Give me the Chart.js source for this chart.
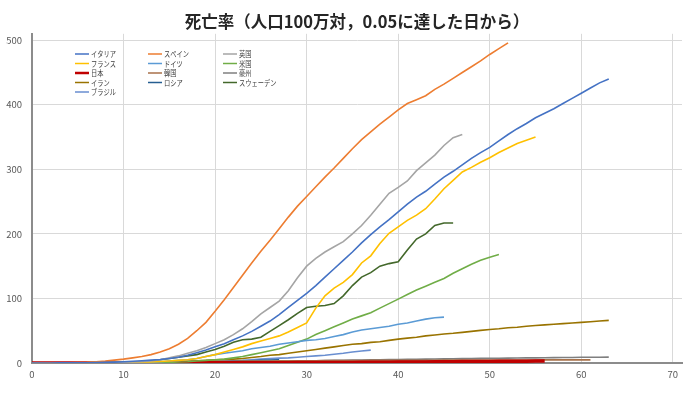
<!DOCTYPE html>
<html lang="ja">
<head>
<meta charset="utf-8">
<title>死亡率</title>
<script src="https://cdn.jsdelivr.net/npm/chart.js@4.4.0/dist/chart.umd.min.js"></script>
<style>
  html, body { margin: 0; padding: 0; background: #fff; }
  #grafico-container { width: 700px; height: 396px; position: relative; }
</style>
</head>
<body>
<div id="grafico-container"><canvas id="graficoMortalidade"></canvas></div>
<script>
// Países na ordem da legenda original (3 colunas, preenchida por linha)
const paises = ['イタリア', 'スペイン', '英国', 'フランス', 'ドイツ', '米国', '日本', '韓国', '豪州', 'イラン', 'ロシア', 'スウェーデン', 'ブラジル'];

// Mortes por milhão, um valor por dia a partir do dia em que chegou a 0,05
const italia = [0.05, 0.1, 0.1, 0.2, 0.3, 0.4, 0.5, 0.7, 1, 1.4, 2, 2.7, 3.5, 4.5, 5.5, 7, 9, 12, 16, 20, 25, 30, 36, 42, 49, 57, 65, 75, 86, 97, 108, 120, 133, 146, 159, 172, 186, 199, 211, 222, 234, 246, 257, 266, 277, 288, 297, 307, 317, 326, 334, 344, 354, 363, 371, 380, 387, 394, 402, 410, 418, 426, 434, 440];
const espanha = [0.05, 0.1, 0.2, 0.3, 0.5, 0.8, 1.2, 2, 3, 4.5, 6, 8, 10, 13, 17, 22, 29, 38, 50, 63, 80, 98, 117, 136, 155, 173, 190, 208, 226, 243, 258, 273, 288, 302, 317, 332, 346, 358, 370, 381, 392, 402, 408, 414, 424, 432, 441, 450, 459, 468, 478, 487, 496];
const reinoUnido = [0.05, 0.1, 0.1, 0.2, 0.2, 0.3, 0.4, 0.6, 0.8, 1, 1.3, 1.7, 2.2, 3, 5, 8, 11, 15, 19, 24, 30, 36, 44, 53, 64, 76, 86, 96, 112, 132, 150, 162, 172, 180, 188, 200, 213, 229, 246, 263, 272, 282, 298, 310, 322, 337, 349, 354];
const franca = [0.05, 0.1, 0.1, 0.1, 0.2, 0.2, 0.3, 0.4, 0.5, 0.7, 0.9, 1.1, 1.4, 1.8, 2.3, 3, 4, 5, 7, 10, 13, 17, 21, 25, 30, 34, 38, 42, 48, 55, 62, 85, 104, 116, 125, 137, 155, 166, 185, 201, 211, 221, 229, 239, 254, 270, 283, 296, 303, 311, 318, 326, 333, 340, 345, 350];
const alemanha = [0.05, 0.1, 0.1, 0.1, 0.2, 0.2, 0.3, 0.4, 0.5, 0.6, 0.7, 0.8, 0.9, 1, 2, 3, 4, 5, 7, 10, 13, 15, 17, 19, 22, 24, 26, 29, 31, 33, 35, 36, 38, 41, 44, 48, 51, 53, 55, 57, 60, 62, 65, 68, 70, 71];
const eua = [0.05, 0.1, 0.1, 0.1, 0.1, 0.2, 0.2, 0.2, 0.3, 0.3, 0.4, 0.4, 0.5, 0.6, 0.7, 1, 1.5, 2, 3, 4, 5, 6, 8, 10, 13, 16, 19, 22, 27, 32, 37, 44, 50, 56, 62, 68, 73, 78, 85, 92, 99, 106, 113, 119, 125, 131, 139, 146, 153, 159, 164, 168];
const japao = [0.05, 0.05, 0.06, 0.07, 0.08, 0.1, 0.1, 0.1, 0.1, 0.1, 0.1, 0.1, 0.2, 0.2, 0.2, 0.2, 0.3, 0.3, 0.3, 0.3, 0.3, 0.4, 0.4, 0.4, 0.4, 0.5, 0.5, 0.5, 0.5, 0.6, 0.6, 0.7, 0.7, 0.8, 0.8, 0.9, 1, 1.1, 1.2, 1.3, 1.4, 1.5, 1.6, 1.7, 1.8, 2, 2.1, 2.2, 2.3, 2.4, 2.5, 2.6, 2.7, 2.8, 2.9, 3, 3.1];
const coreia = [0.05, 0.08, 0.1, 0.15, 0.2, 0.3, 0.4, 0.5, 0.6, 0.7, 0.9, 1, 1.2, 1.3, 1.5, 1.7, 1.9, 2, 2.2, 2.3, 2.5, 2.6, 2.8, 2.9, 3, 3.1, 3.2, 3.3, 3.4, 3.5, 3.5, 3.6, 3.7, 3.7, 3.8, 3.9, 3.9, 4, 4, 4.1, 4.1, 4.2, 4.2, 4.3, 4.3, 4.4, 4.4, 4.5, 4.5, 4.5, 4.6, 4.6, 4.6, 4.7, 4.7, 4.7, 4.8, 4.8, 4.8, 4.9, 4.9, 4.9];
const australia = [0.05, 0.05, 0.06, 0.08, 0.1, 0.1, 0.12, 0.15, 0.2, 0.25, 0.3, 0.35, 0.4, 0.5, 0.6, 0.7, 0.8, 0.9, 1, 1.2, 1.4, 1.6, 1.8, 2, 2.2, 2.4, 2.6, 2.8, 3, 3.2, 3.4, 3.6, 3.8, 4, 4.2, 4.4, 4.6, 4.8, 5, 5.2, 5.4, 5.6, 5.8, 6, 6.2, 6.4, 6.6, 6.8, 7, 7.1, 7.3, 7.4, 7.6, 7.7, 7.9, 8, 8.2, 8.3, 8.5, 8.6, 8.8, 8.9, 9, 9.1];
const ira = [0.05, 0.1, 0.1, 0.15, 0.2, 0.25, 0.3, 0.35, 0.4, 0.45, 0.5, 0.55, 0.6, 0.7, 1, 1.5, 2, 3, 3.5, 4, 5, 5.5, 6, 7, 8.5, 10, 12, 13, 15, 17, 19, 21, 23, 25, 27, 29, 30, 32, 33, 35, 37, 38.5, 40, 42, 43.5, 45, 46, 47.5, 49, 50.5, 52, 53, 54.5, 55.5, 57, 58, 59, 60, 61, 62, 63, 64, 65, 66];
const russia = [0.05, 0.05, 0.06, 0.07, 0.08, 0.1, 0.1, 0.12, 0.15, 0.2, 0.25, 0.3, 0.4, 0.5, 0.6, 0.8, 1, 1.2, 1.5, 1.8, 2.1, 2.4, 2.8, 3.2, 3.6, 4, 4.5, 5];
const suecia = [0.05, 0.1, 0.1, 0.2, 0.2, 0.3, 0.4, 0.5, 0.6, 0.8, 1, 1.3, 2, 3, 5, 7, 9, 11, 13, 17, 21, 26, 32, 36, 37, 40, 49, 58, 67, 77, 86, 88, 89, 92, 104, 120, 133, 140, 150, 154, 157, 175, 192, 200, 213, 217, 217];
const brasil = [0.05, 0.05, 0.06, 0.07, 0.08, 0.1, 0.1, 0.12, 0.15, 0.2, 0.25, 0.3, 0.35, 0.4, 0.45, 0.5, 0.6, 1, 1.5, 2, 2.5, 3, 3.5, 4, 5, 6, 7, 7.5, 8, 9, 10, 11, 12, 13.5, 15, 17, 18.5, 20];

// Marcas dos eixos
const ticksX = [0, 10, 20, 30, 40, 50, 60, 70];
const ticksY = [0, 100, 200, 300, 400, 500];

const series = [italia, espanha, reinoUnido, franca, alemanha, eua, japao, coreia, australia, ira, russia, suecia, brasil];
// Paleta padrão do Excel, com o Japão em vermelho
const cores = ['#4472C4', '#ED7D31', '#A5A5A5', '#FFC000', '#5B9BD5', '#70AD47', '#C00000', '#A8714A', '#7F7F7F', '#997300', '#255E91', '#43682B', '#698ED0'];

const fonteJP = '"Noto Sans CJK JP", "Noto Sans", sans-serif';

// Legenda desenhada dentro da área do gráfico, em 3 colunas
const legendaInterna = {
  id: 'legendaInterna',
  afterDraw(chart) {
    const ctx = chart.ctx;
    const colunas = [75, 148, 223];
    ctx.save();
    ctx.font = '8px ' + fonteJP;
    ctx.textBaseline = 'middle';
    ctx.fillStyle = '#404040';
    chart.data.datasets.forEach((ds, i) => {
      const x = colunas[i % 3];
      const y = 54 + Math.floor(i / 3) * 9.5;
      ctx.strokeStyle = ds.borderColor;
      ctx.lineWidth = ds.borderWidth > 2 ? 2.5 : 1.5;
      ctx.beginPath();
      ctx.moveTo(x, y);
      ctx.lineTo(x + 14, y);
      ctx.stroke();
      const largura = ctx.measureText(ds.label).width;
      ctx.fillText(ds.label, x + 16, y, largura * 0.78);
    });
    ctx.restore();
  }
};

const datasets = series.map((valores, i) => ({
  label: paises[i],
  data: valores.map((v, dia) => ({ x: dia, y: v })),
  borderColor: cores[i],
  backgroundColor: cores[i],
  borderWidth: paises[i] === '日本' ? 3.5 : 1.6,
  pointRadius: 0,
  tension: 0,
  fill: false,
}));

new Chart(document.getElementById('graficoMortalidade'), {
  type: 'line',
  data: { datasets },
  options: {
    responsive: true,
    maintainAspectRatio: false,
    animation: false,
    layout: { padding: { left: 0, right: 18, top: 0, bottom: 0 } },
    plugins: {
      legend: { display: false },
      tooltip: { enabled: false },
      title: {
        display: true,
        fullSize: false,
        text: '死亡率（人口100万対，0.05に達した日から）',
        color: '#262626',
        font: { family: fonteJP, size: 16.5, weight: 'bold' },
        padding: { top: 12, bottom: 2 },
      },
    },
    scales: {
      x: {
        type: 'linear',
        min: 0,
        max: 71,
        afterBuildTicks: (eixo) => { eixo.ticks = ticksX.map((v) => ({ value: v })); },
        afterFit: (eixo) => { eixo.height = 33; },
        ticks: { color: '#595959', font: { family: fonteJP, size: 9.5 }, padding: 6, maxRotation: 0 },
        grid: { color: '#D9D9D9', lineWidth: 1, drawTicks: false },
        border: { color: '#8C8C8C', width: 2 },
      },
      y: {
        min: 0,
        max: 510,
        afterBuildTicks: (eixo) => { eixo.ticks = ticksY.map((v) => ({ value: v })); },
        afterFit: (eixo) => { eixo.width = 32; },
        ticks: { color: '#595959', font: { family: fonteJP, size: 9.5 }, padding: 10 },
        grid: { color: '#D9D9D9', lineWidth: 1, drawTicks: false },
        border: { color: '#8C8C8C', width: 2 },
      },
    },
  },
  plugins: [legendaInterna],
});
</script>
</body>
</html>
